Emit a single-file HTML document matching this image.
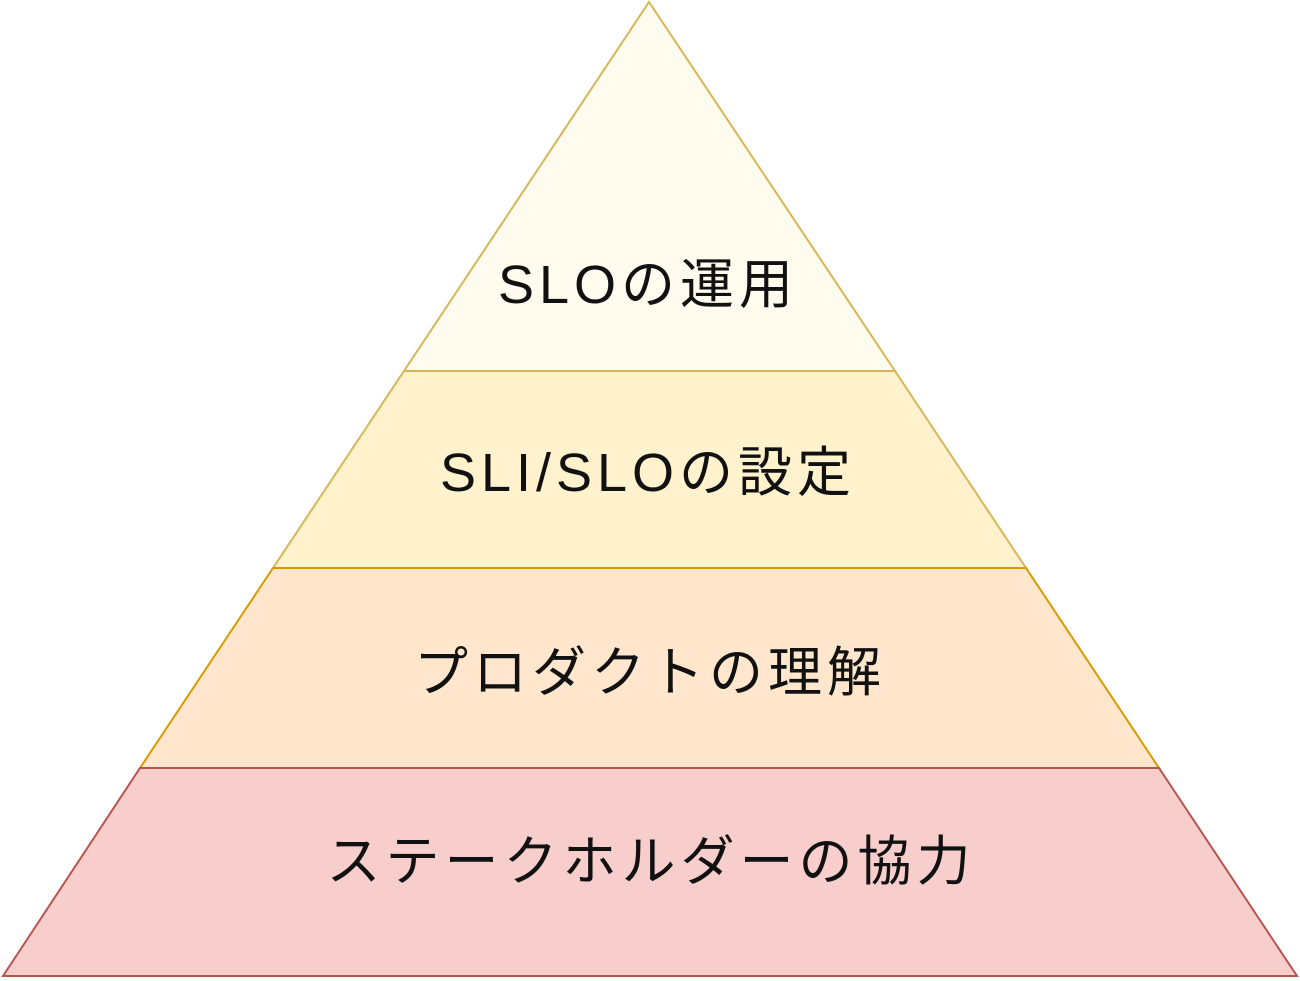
<!DOCTYPE html>
<html><head><meta charset="utf-8"><style>
html,body{margin:0;padding:0;background:#fff;}
</style></head><body>
<svg width="1300" height="981" viewBox="0 0 1300 981" xmlns="http://www.w3.org/2000/svg" style="display:block">
<g stroke-width="2">
<polygon points="649,2 895,371 404,371" fill="#fffbee" stroke="#d6b656"/>
<polygon points="404,371 895,371 1026,568 273,568" fill="#fff2cc" stroke="#d6b656"/>
<polygon points="273,568 1026,568 1159,768 140,768" fill="#ffe6cc" stroke="#d79b00"/>
<polygon points="140,768 1159,768 1297,976 3,976" fill="#f8cecc" stroke="#b85450"/>
</g>
<g font-family="'Liberation Sans','Noto Sans CJK JP',sans-serif" font-size="54" fill="#111" text-anchor="middle" dominant-baseline="central" letter-spacing="5">
<text x="648" y="285">SLOの運用</text>
<text x="648" y="473">SLI/SLOの設定</text>
<text x="650" y="673">プロダクトの理解</text>
<text x="651" y="862">ステークホルダーの協力</text>
</g>
</svg>
</body></html>
